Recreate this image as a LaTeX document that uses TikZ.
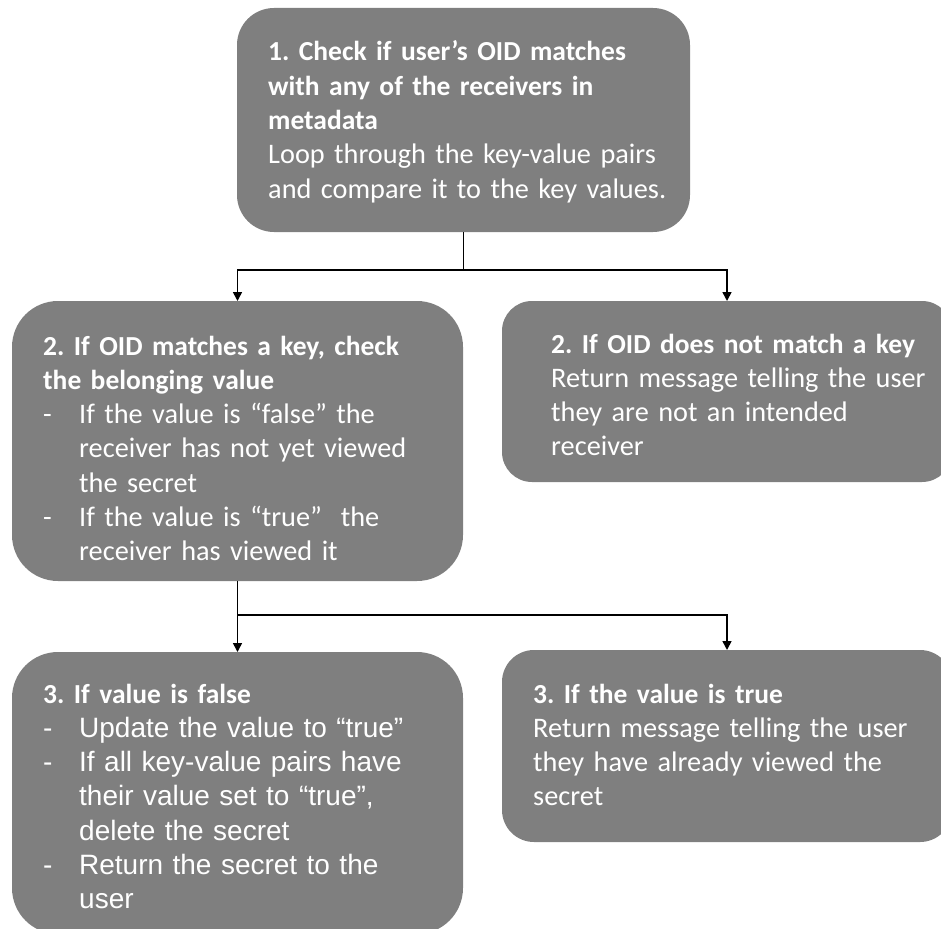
\documentclass[tikz,border=0pt]{standalone}
\usepackage{fontspec}
\setmainfont{Carlito}
\newfontfamily\arialfont{Liberation Sans}
\usetikzlibrary{arrows.meta}

\definecolor{boxgray}{RGB}{127,127,127}

\tikzset{
  stepbox/.style={draw=none, fill=boxgray, rectangle, anchor=north west,
    inner sep=0pt, outer sep=0pt},
  boxtext/.style={anchor=base west, inner sep=0pt, text=white, align=left,
    text width=#1, font=\fontsize{28.3}{34.3}\selectfont\frenchspacing},
  flow/.style={draw=black, line width=1.6pt},
  flowarrow/.style={flow, -{Triangle[width=9pt,length=9pt]}},
}

% bold heading line, set a touch smaller than the body text
\newcommand{\headline}[1]{{\fontsize{27.5}{34.3}\selectfont\bfseries #1}}
\newcommand{\dashitem}[1]{\makebox[36pt][l]{-}#1}
\newcommand{\dashcont}[1]{\hspace*{36pt}#1}

\begin{document}
\begin{tikzpicture}[x=1pt, y=-1pt]
  \useasboundingbox (0,0) rectangle (941,928);

  % boxes
  \node[stepbox, rounded corners=37pt, minimum width=453pt, minimum height=224pt]
    (check) at (237,8) {};
  \node[stepbox, rounded corners=46pt, minimum width=451pt, minimum height=280pt]
    (match) at (12,301) {};
  \node[stepbox, rounded corners=30pt, minimum width=450pt, minimum height=181pt]
    (nomatch) at (502,301) {};
  \node[stepbox, rounded corners=46pt, minimum width=451pt, minimum height=282pt]
    (isfalse) at (12,652) {};
  \node[stepbox, rounded corners=32pt, minimum width=450pt, minimum height=192pt]
    (istrue) at (502,650) {};

  % texts
  \node[boxtext=420pt] (checktxt) at (268,61)
    {\headline{1. Check if user’s OID matches}\\
     \headline{with any of the receivers in}\\
     \headline{metadata}\\
     Loop through the key-value pairs\\
     and compare it to the key values.};

  \node[boxtext=420pt] (matchtxt) at (43,355)
    {\headline{2. If OID matches a key, check}\\
     \headline{the belonging value}\\
     \dashitem{If the value is “false” the}\\
     \dashcont{receiver has not yet viewed}\\
     \dashcont{the secret}\\
     \dashitem{If the value is “true”~ the}\\
     \dashcont{receiver has viewed it}};

  \node[boxtext=390pt] (nomatchtxt) at (551,353)
    {\headline{2. If OID does not match a key}\\
     Return message telling the user\\
     they are not an intended\\
     receiver};

  \node[boxtext=420pt] (isfalsetxt) at (43,703)
    {\headline{3. If value is false}\\
     {\arialfont\fontsize{28}{34.3}\selectfont\dashitem{Update the value to “true”}}\\
     {\arialfont\fontsize{28}{34.3}\selectfont\dashitem{If all key-value pairs have}}\\
     {\arialfont\fontsize{28}{34.3}\selectfont\dashcont{their value set to “true”,}}\\
     {\arialfont\fontsize{28}{34.3}\selectfont\dashcont{delete the secret}}\\
     {\arialfont\fontsize{28}{34.3}\selectfont\dashitem{Return the secret to the}}\\
     {\arialfont\fontsize{28}{34.3}\selectfont\dashcont{user}}};

  \node[boxtext=400pt] (istruetxt) at (533,703)
    {\headline{3. If the value is true}\\
     Return message telling the user\\
     they have already viewed the\\
     secret};

  % connectors
  \coordinate (split1) at ([yshift=-38pt]check.south);
  \draw[flow] (check.south) -- (split1);
  \draw[flowarrow] (split1) -| (match.north);
  \draw[flowarrow] (split1) -| (nomatch.north);

  \coordinate (split2) at ([yshift=-34pt]match.south);
  \draw[flow] (match.south) -- (split2);
  \draw[flowarrow] (split2) -- (isfalse.north);
  \draw[flowarrow] (split2) -| (istrue.north);
\end{tikzpicture}
\end{document}
